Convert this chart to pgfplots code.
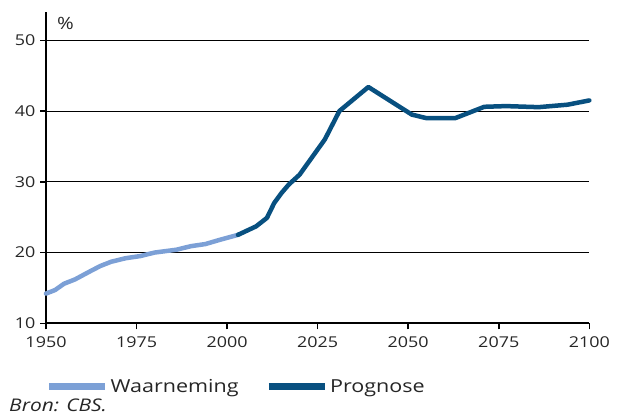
\documentclass[border=0pt]{standalone}
\usepackage{fontspec}
\setmainfont[FakeStretch=1.2]{Open Sans}
\usepackage{pgfplots}
\pgfplotsset{compat=1.18}
\definecolor{lightb}{RGB}{124,160,214}
\definecolor{darkb}{RGB}{8,80,128}
\begin{document}
\begin{tikzpicture}
\path[use as bounding box] (0,0) rectangle (619bp,415bp);
\begin{axis}[
  at={(46bp,91.7bp)}, anchor=origin,
  scale only axis, width=543.3bp, height=311.3bp,
  xmin=1950, xmax=2100, ymin=10, ymax=54,
  axis lines=left, axis line style={line width=2.2bp, -},
  xtick={1950,1975,...,2100}, ytick={10,20,...,50},
  ymajorgrids, grid style={line width=0.9bp, black},
  tick align=outside, major tick length=6bp,
  tick style={line width=1.5bp, black},
  every tick label/.append style={font=\fontsize{15}{18}\selectfont, text=black!85},
  /pgf/number format/assume math mode=true,
  /pgf/number format/1000 sep={},
  xticklabel style={yshift=-4bp},
  yticklabel style={xshift=-1bp},
  clip=false,
  legend columns=2,
  legend style={at={(0,-0.203)}, anchor=west, draw=none, inner sep=0pt,
    font=\fontsize{18}{21}\selectfont, text=black!85,
    /tikz/every even column/.append style={column sep=25bp}},
  legend image code/.code={\draw[#1, line width=6.5bp, line cap=butt] (0bp,0bp) -- (56bp,0bp);},
  legend cell align=left,
]
\addplot[lightb, line width=4.5bp, line join=round, line cap=round] coordinates {
(1950,14.2) (1952.5,14.7) (1955,15.6) (1958,16.2) (1962,17.3) (1965,18.1)
(1968,18.7) (1972,19.2) (1976,19.5) (1980,20.0) (1983,20.2) (1986,20.4)
(1990,20.9) (1994,21.2) (1998,21.8) (2003,22.5)};
\addlegendentry{Waarneming}
\addplot[darkb, line width=4.5bp, line join=round, line cap=round] coordinates {
(2003,22.5) (2008,23.7) (2011,24.9) (2013,27.0) (2015,28.4) (2017,29.6)
(2020,31.0) (2027,36.0) (2031,40.0) (2039,43.4) (2051,39.5) (2055,39.0)
(2063,39.0) (2071,40.6) (2077,40.7) (2086,40.55) (2094,40.9) (2100,41.5)};
\addlegendentry{Prognose}
\node[anchor=north west, inner sep=0pt, font=\fontsize{17}{19}\selectfont, text=black!85] at ([xshift=11bp,yshift=-5bp]rel axis cs:0,1) {\%};
\end{axis}
\node[anchor=base west, inner sep=0pt, text depth=0pt, font=\itshape\fontsize{17.5}{20}\selectfont, text=black!85] at (9bp,4bp) {Bron: CBS.};
\end{tikzpicture}
\end{document}
